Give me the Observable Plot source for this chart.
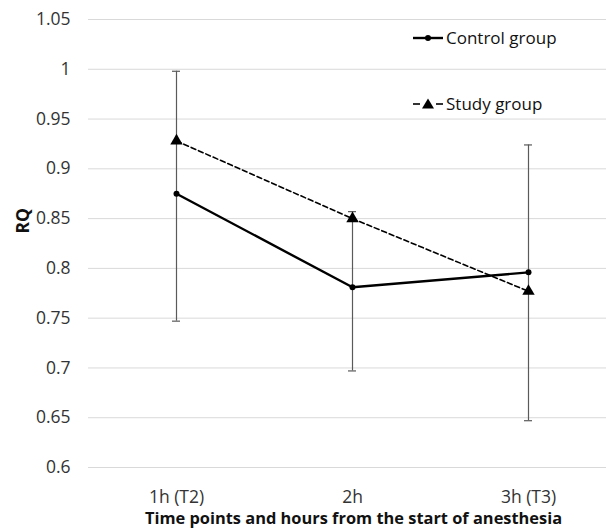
<!DOCTYPE html>
<html>
<head>
<meta charset="utf-8">
<script src="https://cdn.jsdelivr.net/npm/d3@7"></script>
<script src="https://cdn.jsdelivr.net/npm/@observablehq/plot@0.6"></script>
<style>
  html, body { margin: 0; padding: 0; background: #fff; }
  #wrap { position: relative; width: 606px; height: 532px; font-family: "Open Sans", sans-serif; }
  .leg { position: absolute; left: 412px; display: flex; align-items: center; font-size: 17px; color: #111; }
  .leg svg { margin-right: 2px; }
</style>
</head>
<body>
<div id="wrap"></div>
<script>
// Data
const categories = ["1h (T2)", "2h", "3h (T3)"];
const controlValues = [0.875, 0.781, 0.796];
const studyValues = [0.928, 0.850, 0.777];
const errLow = [0.747, 0.697, 0.647];
const errHigh = [0.998, 0.857, 0.924];
const yTicks = [0.6, 0.65, 0.7, 0.75, 0.8, 0.85, 0.9, 0.95, 1, 1.05];

const control = categories.map((c, i) => ({cat: c, v: controlValues[i]}));
const study = categories.map((c, i) => ({cat: c, v: studyValues[i]}));
const errs = categories.map((c, i) => ({cat: c, lo: errLow[i], hi: errHigh[i]}));

const chart = Plot.plot({
  width: 606,
  height: 532,
  marginLeft: 88,
  marginRight: 0,
  marginTop: 19,
  marginBottom: 65,
  style: {fontFamily: "Open Sans, sans-serif", fontSize: "17px", color: "#333", background: "#fff"},
  x: {type: "band", domain: categories, range: [88, 616], padding: 0},
  y: {domain: [0.6, 1.05], ticks: yTicks},
  marks: [
    Plot.ruleY(yTicks, {stroke: "#d9d9d9", strokeWidth: 1}),
    Plot.axisY({ticks: yTicks, tickSize: 0, tickPadding: 18, label: null, fontSize: 17.5, tickFormat: d => String(+d.toFixed(2))}),
    Plot.axisX({tickSize: 0, tickPadding: 23, label: null, fontSize: 17.5}),
    Plot.ruleX(errs, {x: "cat", y1: "lo", y2: "hi", stroke: "#5a5a5a", strokeWidth: 1.2}),
    Plot.tickY(errs, {x: "cat", y: "lo", stroke: "#5a5a5a", strokeWidth: 1.2, insetLeft: 84, insetRight: 84}),
    Plot.tickY(errs, {x: "cat", y: "hi", stroke: "#5a5a5a", strokeWidth: 1.2, insetLeft: 84, insetRight: 84}),
    Plot.line(study, {x: "cat", y: "v", stroke: "#000", strokeWidth: 1.6, strokeDasharray: "5,3"}),
    Plot.line(control, {x: "cat", y: "v", stroke: "#000", strokeWidth: 2.4}),
    Plot.dot(study, {x: "cat", y: "v", symbol: "triangle", r: 4.6, fill: "#000"}),
    Plot.dot(control, {x: "cat", y: "v", r: 3, fill: "#000"}),
    Plot.text(["RQ"], {frameAnchor: "left", rotate: -90, dx: -65, dy: -10, fontWeight: "bold", fontSize: 17.5, fill: "#111"}),
    Plot.text(["Time points and hours from the start of anesthesia"], {frameAnchor: "bottom", dy: 56, dx: 6, fontWeight: "bold", fontSize: 16.4, fill: "#111"})
  ]
});

const wrap = document.getElementById("wrap");
wrap.appendChild(chart);

const legendItems = [
  {label: "Control group", top: 26, dashed: false},
  {label: "Study group", top: 92, dashed: true}
];
for (const it of legendItems) {
  const div = document.createElement("div");
  div.className = "leg";
  div.style.top = it.top + "px";
  const sw = it.dashed
    ? `<svg width="32" height="14"><line x1="1" y1="7" x2="8" y2="7" stroke="#000" stroke-width="1.6"/><line x1="24" y1="7" x2="31" y2="7" stroke="#000" stroke-width="1.6"/><polygon points="16,1.5 22,11.5 10,11.5" fill="#000"/></svg>`
    : `<svg width="32" height="14"><line x1="1" y1="7" x2="31" y2="7" stroke="#000" stroke-width="2.4"/><circle cx="16" cy="7" r="3" fill="#000"/></svg>`;
  div.innerHTML = sw + `<span>${it.label}</span>`;
  wrap.appendChild(div);
}
</script>
</body>
</html>
